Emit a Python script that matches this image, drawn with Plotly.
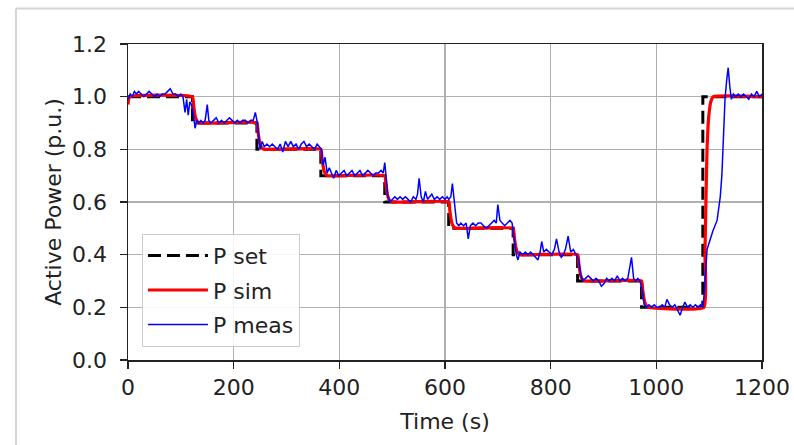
import plotly.graph_objects as go

# ---- data ----
set_times = [0, 122, 244, 365, 486, 607, 729, 851, 972, 1088, 1200]
set_levels = [1.0, 0.9, 0.8, 0.7, 0.6, 0.5, 0.4, 0.3, 0.2, 1.0, 1.0]

sim_t = [0, 3, 122, 124, 126, 128, 131, 135,
         244, 246, 248, 250, 253, 257,
         365, 367, 369, 371, 374, 378,
         486, 488, 490, 492, 495, 499,
         607, 609, 611, 613, 616, 620,
         729, 731, 733, 735, 738, 742,
         851, 853, 855, 857, 860, 864,
         972, 974, 976, 978, 981, 985,
         1090, 1092, 1094, 1096, 1099, 1103, 1108, 1200]
sim_v = [0.97, 1.0, 1.0, 0.97, 0.94, 0.92, 0.907, 0.9,
         0.9, 0.87, 0.84, 0.82, 0.807, 0.8,
         0.8, 0.77, 0.74, 0.72, 0.707, 0.7,
         0.7, 0.67, 0.64, 0.62, 0.607, 0.6,
         0.6, 0.57, 0.54, 0.52, 0.507, 0.5,
         0.5, 0.47, 0.44, 0.42, 0.407, 0.4,
         0.4, 0.37, 0.34, 0.32, 0.307, 0.3,
         0.3, 0.27, 0.24, 0.22, 0.207, 0.2,
         0.2, 0.4, 0.62, 0.8, 0.92, 0.98, 1.0, 1.0]

meas_t = [0, 4, 8, 12, 16, 20, 25, 30, 35, 40, 45, 50, 55, 60, 65, 70, 75, 80, 85, 90,
          95, 100, 104, 108, 111, 114, 117, 120,
          124, 127, 130, 134, 138, 142, 146, 150, 153, 157, 162, 167, 172, 177, 182, 187,
          192, 197, 202, 207, 212, 217, 222, 227, 232, 237, 241, 244,
          247, 250, 254, 258, 263, 268, 273, 278, 283, 288, 293, 298, 303, 308, 313, 318,
          323, 328, 333, 338, 343, 348, 353, 358, 362,
          366, 369, 373, 377, 381, 385, 389, 394, 399, 404, 409, 414, 419, 424, 429, 434,
          439, 444, 449, 454, 459, 464, 469, 474, 479, 483, 486,
          489, 492, 496, 500, 505, 510, 515, 520, 525, 530, 535, 540, 545, 548, 551, 555,
          559, 563, 567, 571, 575, 580, 585, 590, 595, 600, 604, 607,
          611, 614, 618, 622, 626, 630, 635, 640, 644, 648, 653, 658, 663, 668, 673, 678,
          683, 688, 693, 697, 700, 704, 708, 713, 718, 723, 727,
          731, 735, 738, 742, 747, 752, 757, 762, 767, 772, 776, 780, 783, 787, 792, 797,
          802, 807, 811, 816, 820, 824, 828, 833, 838, 843, 848,
          853, 857, 861, 866, 871, 876, 881, 886, 891, 896, 901, 906, 911, 916, 921, 926,
          931, 936, 941, 946, 950, 953, 957, 961, 965, 969,
          974, 977, 981, 986, 991, 996, 1001, 1006, 1011, 1016, 1020, 1025, 1030, 1035,
          1040, 1045, 1050, 1054, 1059, 1064, 1069, 1074, 1079, 1084, 1088,
          1091, 1096, 1102, 1107, 1115, 1121, 1124, 1126, 1130, 1133, 1136, 1139, 1142,
          1146, 1150, 1155, 1160, 1165, 1170, 1175, 1180, 1185, 1190, 1195, 1200]
meas_v = [0.99, 1.01, 1.00, 1.02, 1.01, 1.02, 1.01, 1.00, 1.01, 1.02, 1.01, 1.00, 1.01, 1.00,
          1.01, 1.01, 1.02, 1.03, 1.01, 1.01, 1.00, 1.01, 1.00, 0.94, 0.99, 0.93, 0.98, 0.97,
          0.93, 0.88, 0.91, 0.90, 0.91, 0.90, 0.91, 0.97, 0.91, 0.90, 0.91, 0.92, 0.90, 0.91,
          0.90, 0.91, 0.92, 0.91, 0.90, 0.91, 0.90, 0.91, 0.91, 0.90, 0.91, 0.91, 0.94, 0.91,
          0.84, 0.80, 0.83, 0.81, 0.82, 0.81, 0.82, 0.81, 0.80, 0.82, 0.79, 0.83, 0.81, 0.83,
          0.81, 0.82, 0.80, 0.82, 0.83, 0.81, 0.82, 0.81, 0.80, 0.82, 0.81,
          0.80, 0.74, 0.77, 0.71, 0.73, 0.71, 0.69, 0.72, 0.70, 0.71, 0.72, 0.70, 0.71, 0.72,
          0.70, 0.71, 0.72, 0.70, 0.71, 0.72, 0.71, 0.70, 0.71, 0.71, 0.72, 0.71, 0.75,
          0.68, 0.62, 0.60, 0.61, 0.62, 0.61, 0.62, 0.61, 0.62, 0.61, 0.60, 0.62, 0.61, 0.63,
          0.69, 0.62, 0.60, 0.64, 0.61, 0.62, 0.63, 0.61, 0.62, 0.61, 0.62, 0.61, 0.62, 0.61,
          0.62, 0.67, 0.60, 0.52, 0.51, 0.52, 0.51, 0.52, 0.46, 0.51, 0.52, 0.51, 0.52, 0.52,
          0.51, 0.50, 0.51, 0.52, 0.53, 0.52, 0.59, 0.53, 0.52, 0.51, 0.52, 0.53, 0.52,
          0.46, 0.40, 0.38, 0.41, 0.40, 0.41, 0.40, 0.41, 0.40, 0.39, 0.38, 0.41, 0.45, 0.41,
          0.42, 0.41, 0.40, 0.42, 0.46, 0.41, 0.39, 0.40, 0.42, 0.47, 0.41, 0.42, 0.40,
          0.38, 0.32, 0.30, 0.31, 0.32, 0.31, 0.30, 0.31, 0.30, 0.28, 0.29, 0.31, 0.30, 0.31,
          0.30, 0.32, 0.30, 0.31, 0.30, 0.31, 0.35, 0.39, 0.31, 0.30, 0.31, 0.30,
          0.26, 0.21, 0.20, 0.21, 0.20, 0.21, 0.20, 0.20, 0.21, 0.20, 0.23, 0.21, 0.20, 0.21,
          0.19, 0.17, 0.20, 0.22, 0.20, 0.21, 0.20, 0.21, 0.20, 0.21, 0.20,
          0.26, 0.42, 0.46, 0.49, 0.53, 0.62, 0.70, 0.82, 0.99, 1.06, 1.11, 1.04, 0.99,
          1.01, 1.00, 1.01, 1.00, 1.01, 1.00, 0.99, 1.01, 1.00, 1.02, 1.00, 1.01]

x_ticks = [0, 200, 400, 600, 800, 1000, 1200]
y_ticks = [0.0, 0.2, 0.4, 0.6, 0.8, 1.0, 1.2]

FONT = "DejaVu Sans"
TXT = "#222222"

fig = go.Figure()
fig.add_trace(go.Scatter(x=set_times, y=set_levels, name="P set", mode="lines", legendgroup="a",
                         line=dict(color="black", width=3, dash="13px,6px", shape="hv")))
fig.add_trace(go.Scatter(x=sim_t, y=sim_v, name="P sim", mode="lines", legendgroup="b",
                         line=dict(color="#ff0000", width=3.2, shape="spline", smoothing=0.4)))
fig.add_trace(go.Scatter(x=meas_t, y=meas_v, name="P meas", mode="lines", legendgroup="c",
                         line=dict(color="#0000ff", width=1.5)))

axis_common = dict(showgrid=True, gridcolor="#b0b0b0", gridwidth=1.2, automargin=False,
                   showline=True, linecolor=TXT, linewidth=1.5, mirror=True,
                   ticks="outside", ticklen=7, tickwidth=1.3, tickcolor=TXT,
                   zeroline=False, tickfont=dict(family=FONT, size=22, color=TXT))

fig.update_xaxes(range=[0, 1200], tickvals=x_ticks,
                 title=dict(text="Time (s)", font=dict(family=FONT, size=22, color=TXT),
                            standoff=14),
                 **axis_common)
fig.update_yaxes(range=[0, 1.2], tickvals=y_ticks, tickformat=".1f", ticklabelstandoff=8,
                 title=dict(text="Active Power (p.u.)", font=dict(family=FONT, size=22, color=TXT),
                            standoff=4),
                 **axis_common)

# screenshot frame lines
fig.add_shape(type="line", xref="paper", yref="paper", x0=-0.1767, x1=1.06, y0=1.112, y1=1.112,
              line=dict(color="#d4d4d4", width=2))
fig.add_shape(type="line", xref="paper", yref="paper", x0=-0.1767, x1=-0.1767, y0=-0.28, y1=1.112,
              line=dict(color="#d4d4d4", width=2))

fig.update_layout(
    width=794, height=445,
    margin=dict(l=128, r=32, t=44, b=85, autoexpand=False),
    paper_bgcolor="white", plot_bgcolor="white",
    font=dict(family=FONT, size=22, color=TXT),
    showlegend=True,
    legend=dict(x=0.022, y=0.40, xanchor="left", yanchor="top",
                bgcolor="rgba(255,255,255,0.85)", bordercolor="#cccccc", borderwidth=1,
                font=dict(family=FONT, size=22, color=TXT),
                itemwidth=60, tracegroupgap=3),
)

fig.write_html("out.html", config={"displayModeBar": False, "staticPlot": True},
               post_script="document.body.style.margin='0';document.body.style.overflow='hidden';")
